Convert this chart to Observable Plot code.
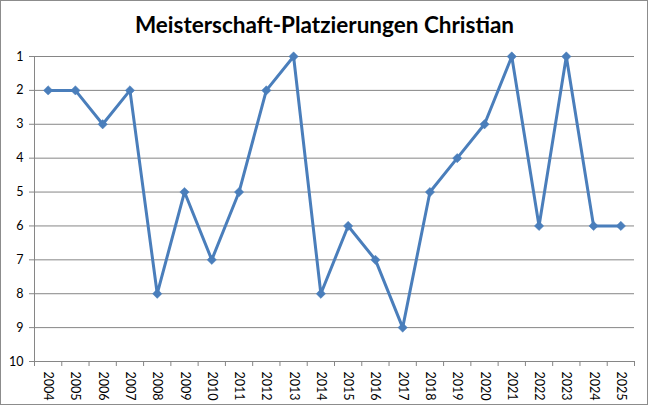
<!DOCTYPE html>
<html><head><meta charset="utf-8">
<script src="https://cdn.jsdelivr.net/npm/d3@7"></script>
<script src="https://cdn.jsdelivr.net/npm/@observablehq/plot@0.6"></script>
<style>
html,body{margin:0;padding:0;background:#fff;}
body{position:relative;width:649px;height:406px;overflow:hidden;font-family:Lato,"Open Sans",sans-serif;}
#frame{position:absolute;left:0;top:0;width:648px;height:405px;border:1px solid #8c8c8c;box-sizing:border-box;}
#title{position:absolute;left:0;top:11px;width:649px;text-align:center;font-weight:bold;font-size:22.5px;color:#000;}
#chart{position:absolute;left:0;top:40px;}
</style></head>
<body>
<div id="frame"></div>
<div id="title">Meisterschaft-Platzierungen Christian</div>
<div id="chart"></div>
<script>
const years = [2004,2005,2006,2007,2008,2009,2010,2011,2012,2013,2014,2015,2016,2017,2018,2019,2020,2021,2022,2023,2024,2025];
const places = [2,2,3,2,8,5,7,5,2,1,8,6,7,9,5,4,3,1,6,1,6,6];
const yTicks = [1,2,3,4,5,6,7,8,9,10];

const data = years.map((y,i)=>({year:y, place:places[i]}));
const bounds = years.map(y=>y-0.5).concat([years[years.length-1]+0.5]);

const grid = "#868686";
const chart = Plot.plot({
  width: 649, height: 366,
  marginLeft: 34, marginRight: 15, marginTop: 16, marginBottom: 45,
  style: {fontFamily: "Lato, 'Open Sans', sans-serif", fontSize: "12.5px", color: "#000", background: "transparent", overflow: "visible"},
  x: {domain: [bounds[0], bounds[bounds.length-1]], axis: null},
  y: {domain: [1,10], reverse: true, axis: null},
  marks: [
    Plot.ruleY(yTicks, {stroke: grid, strokeWidth: 1}),
    Plot.ruleX([bounds[0]], {stroke: grid, strokeWidth: 1}),
    Plot.axisY({ticks: yTicks, tickSize: 5, tickPadding: 6, stroke: grid, tickFormat: d=>String(d), fill:"#000", label: null}),
    Plot.axisX({ticks: bounds, tickSize: 5, tickFormat: () => "", stroke: grid, label: null}),
    Plot.axisX({ticks: years, tickSize: 0, tickPadding: 10, tickRotate: 90, tickFormat: d=>String(d), fill:"#000", label: null}),
    Plot.line(data, {x: "year", y: "place", stroke: "#4a7ebb", strokeWidth: 3, strokeLinejoin: "round"}),
    Plot.dot(data, {x: "year", y: "place", symbol: "diamond2", r: 4.2, fill: "#4a7ebb", stroke: "#4a7ebb", strokeWidth: 0.5})
  ]
});
document.getElementById("chart").appendChild(chart);
</script>
</body></html>
